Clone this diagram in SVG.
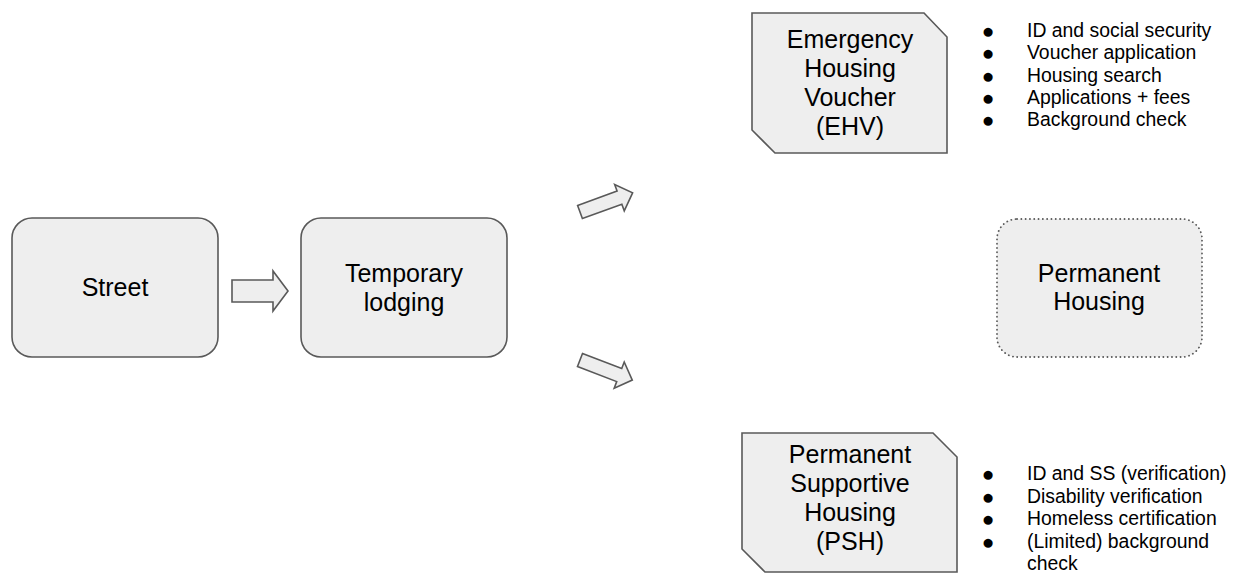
<svg xmlns="http://www.w3.org/2000/svg" width="1248" height="574" viewBox="0 0 1248 574">
<style>
.box{fill:#eeeeee;stroke:#595959;stroke-width:1.6}
.dot{fill:#eeeeee;stroke:#595959;stroke-width:1.8;stroke-dasharray:0.1 4.2;stroke-linecap:round}
.arr{fill:#eeeeee;stroke:#595959;stroke-width:1.6;stroke-linejoin:miter}
.lbl{font-family:"Liberation Sans",Arial,sans-serif;font-size:25px;fill:#000;text-anchor:middle}
.li{font-family:"Liberation Sans",Arial,sans-serif;font-size:19.4px;fill:#000}
.bul{font-family:"Liberation Sans","DejaVu Sans",sans-serif;font-size:21px;fill:#000;text-anchor:middle}
</style>
<rect width="1248" height="574" fill="#ffffff"/>
<g id="connectors">
<polygon class="arr" transform="translate(232,291)" points="0,-11 41,-11 41,-20 56,0 41,20 41,11 0,11"/>
<polygon class="arr" transform="translate(580,212) rotate(-20)" points="0,-7 42,-7 42,-14 56,0 42,14 42,7 0,7"/>
<polygon class="arr" transform="translate(580,360) rotate(21)" points="0,-7 42,-7 42,-14 56,0 42,14 42,7 0,7"/>
</g>
<g id="street">
<rect class="box" x="12" y="218" width="206" height="139" rx="20" ry="20"/>
<text class="lbl" x="115" y="296">Street</text>
</g>
<g id="temporary">
<rect class="box" x="301" y="218" width="206" height="139" rx="20" ry="20"/>
<text class="lbl" x="404" y="282">Temporary</text>
<text class="lbl" x="404" y="311">lodging</text>
</g>
<g id="ehv">
<polygon class="box" points="752,13 924,13 947,37 947,153 775,153 752,130"/>
<text class="lbl" x="850" y="48">Emergency</text>
<text class="lbl" x="850" y="77">Housing</text>
<text class="lbl" x="850" y="106">Voucher</text>
<text class="lbl" x="850" y="135">(EHV)</text>
</g>
<g id="ehv-list">
<text class="bul" x="988" y="38">●</text><text class="li" x="1027" y="37">ID and social security</text>
<text class="bul" x="988" y="60">●</text><text class="li" x="1027" y="59">Voucher application</text>
<text class="bul" x="988" y="83">●</text><text class="li" x="1027" y="82">Housing search</text>
<text class="bul" x="988" y="105">●</text><text class="li" x="1027" y="104">Applications + fees</text>
<text class="bul" x="988" y="127">●</text><text class="li" x="1027" y="126">Background check</text>
</g>
<g id="permanent">
<rect class="dot" x="997" y="219" width="205" height="138" rx="20" ry="20"/>
<text class="lbl" x="1099" y="282">Permanent</text>
<text class="lbl" x="1099" y="310">Housing</text>
</g>
<g id="psh">
<polygon class="box" points="742,433 933,433 957,457 957,572 765,572 742,549"/>
<text class="lbl" x="850" y="463">Permanent</text>
<text class="lbl" x="850" y="492">Supportive</text>
<text class="lbl" x="850" y="521">Housing</text>
<text class="lbl" x="850" y="550">(PSH)</text>
</g>
<g id="psh-list">
<text class="bul" x="988" y="481">●</text><text class="li" x="1027" y="480">ID and SS (verification)</text>
<text class="bul" x="988" y="503.5">●</text><text class="li" x="1027" y="502.5">Disability verification</text>
<text class="bul" x="988" y="526">●</text><text class="li" x="1027" y="525">Homeless certification</text>
<text class="bul" x="988" y="548.5">●</text><text class="li" x="1027" y="547.5">(Limited) background</text>
<text class="li" x="1027" y="570">check</text>
</g>
</svg>
